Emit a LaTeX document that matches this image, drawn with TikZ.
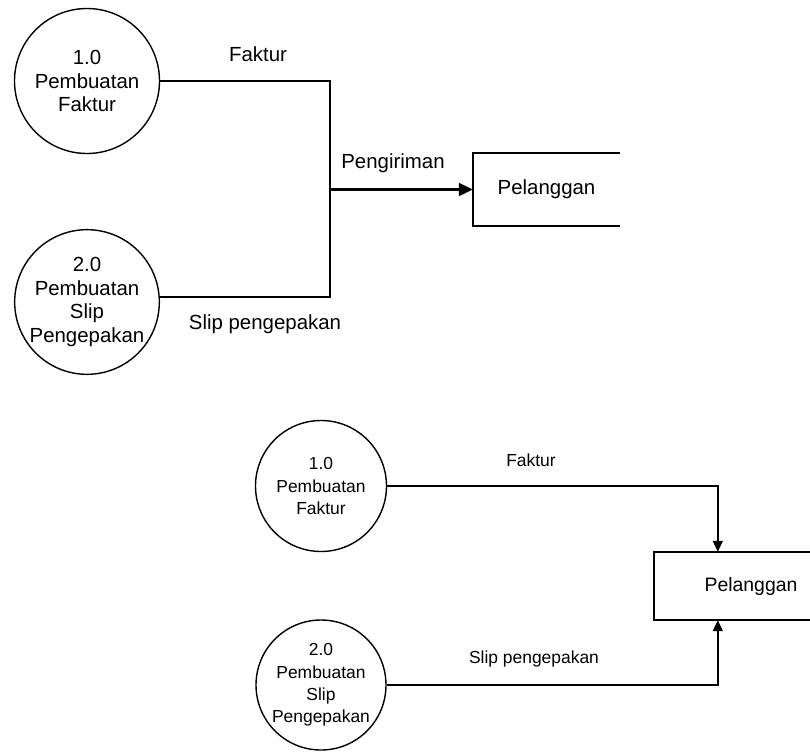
\documentclass[tikz,border=0pt]{standalone}
\usepackage{fontspec}
\setmainfont{Liberation Sans}
\usetikzlibrary{arrows.meta}

\begin{document}
\begin{tikzpicture}[
  proc/.style={draw,circle,line width=1.4bp,inner sep=0pt,align=center},
  ent/.style={inner sep=0pt},
  big/.style={font=\fontsize{20.5}{23.5}\selectfont},
  small/.style={font=\fontsize{17.5}{22.5}\selectfont},
  flow/.style={line width=2.2bp},
  thin flow/.style={line width=1.5bp}
]
\clip (0bp,0bp) rectangle (810bp,-753bp);

% merged flow
\node (P1) at (87bp,-81bp)[proc,big,minimum size=145bp] {1.0\\Pembuatan\\Faktur};
\node (P2) at (87bp,-302bp)[proc,big,minimum size=138bp] {2.0\\Pembuatan\\Slip\\Pengepakan};
\node (E1) at (546.5bp,-189.5bp)[ent,big,minimum width=147bp,minimum height=73bp] {Pelanggan};
\coordinate (J) at (330bp,-189.5bp);
\draw [flow] (E1.north east) -- (E1.north west) -- (E1.south west) -- (E1.south east);
\draw [flow] (P1.east) -| (J);
\draw [flow] ([yshift=5bp]P2.east) -| (J);
\draw [flow,-{Triangle[length=14bp,width=13bp]}] (J) -- (E1.west);
\node (F1) at (258bp,-54bp)[big] {Faktur};
\node (S1) at (265bp,-324bp)[big] {Slip pengepakan};
\node (K1) at (393bp,-163bp)[big] {Pengiriman};

% separate flows
\node (B1) at (321bp,-486bp)[proc,small,minimum size=131bp] {1.0\\Pembuatan\\Faktur};
\node (B2) at (321bp,-685bp)[proc,small,minimum size=130bp] {2.0\\Pembuatan\\Slip\\Pengepakan};
\node (E2) at (751bp,-586bp)[ent,font=\fontsize{19.5}{23}\selectfont,minimum width=194bp,minimum height=68bp] {Pelanggan};
\draw [line width=2bp] (E2.north east) -- (E2.north west) -- (E2.south west) -- (E2.south east);
\draw [thin flow,-{Triangle[length=11bp,width=10bp]}] (B1.east) -| ([xshift=64bp]E2.north west);
\draw [thin flow,-{Triangle[length=11bp,width=10bp]}] (B2.east) -| ([xshift=64bp]E2.south west);
\node (F2) at (531bp,-460bp)[small] {Faktur};
\node (S2) at (534bp,-659bp)[small] {Slip pengepakan};
\end{tikzpicture}
\end{document}
